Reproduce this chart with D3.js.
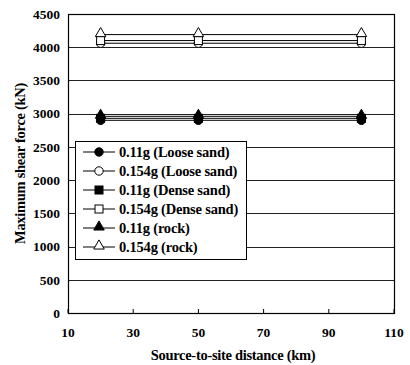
<!DOCTYPE html>
<html>
<head>
<meta charset="utf-8">
<script src="https://cdn.jsdelivr.net/npm/d3@7"></script>
<style>
  body { margin: 0; background: #fff; }
  text { font-family: "Liberation Serif", "Times New Roman", serif; font-weight: bold; }
</style>
</head>
<body>
<div id="chart"></div>
<script>
// data
const distances = [20, 50, 100];
const seriesNames = ["0.11g (Loose sand)", "0.154g (Loose sand)", "0.11g (Dense sand)",
                     "0.154g (Dense sand)", "0.11g (rock)", "0.154g (rock)"];
const looseSand011 = [2900, 2900, 2900];
const looseSand0154 = [4060, 4060, 4060];
const denseSand011 = [2930, 2930, 2930];
const denseSand0154 = [4100, 4100, 4100];
const rock011 = [2960, 2960, 2960];
const rock0154 = [4190, 4190, 4190];
const xTicks = [10, 30, 50, 70, 90, 110];
const yTicks = d3.range(0, 4501, 500);

const seriesValues = [looseSand011, looseSand0154, denseSand011, denseSand0154, rock011, rock0154];
const markers = ["circle", "circle", "square", "square", "triangle", "triangle"];
const filled = [true, false, true, false, true, false];

const width = 410, height = 365;
const margin = { left: 68, right: 16, top: 14, bottom: 52 };

const svg = d3.select("#chart").append("svg")
    .attr("width", width)
    .attr("height", height);

const x = d3.scaleLinear().domain([10, 110]).range([margin.left, width - margin.right]);
const y = d3.scaleLinear().domain([0, 4500]).range([height - margin.bottom, margin.top]);

// gridlines
svg.append("g")
    .selectAll("line")
    .data(yTicks)
    .enter()
    .append("line")
    .attr("x1", x(10)).attr("x2", x(110))
    .attr("y1", d => Math.round(y(d)) + 0.5).attr("y2", d => Math.round(y(d)) + 0.5)
    .style("stroke", "#222")
    .style("stroke-width", 1);

// frame
svg.append("rect")
    .attr("x", x(10) + 0.5).attr("y", y(4500) + 0.5)
    .attr("width", x(110) - x(10)).attr("height", y(0) - y(4500))
    .style("fill", "none").style("stroke", "#000").style("stroke-width", 1.2);

// x tick marks (inside)
svg.append("g")
    .selectAll("line")
    .data(xTicks)
    .enter()
    .append("line")
    .attr("x1", d => x(d)).attr("x2", d => x(d))
    .attr("y1", y(0)).attr("y2", y(0) - 4)
    .style("stroke", "#000");

// tick labels
svg.append("g")
    .selectAll("text")
    .data(yTicks)
    .enter()
    .append("text")
    .attr("x", x(10) - 8)
    .attr("y", d => y(d))
    .attr("dy", "0.35em")
    .attr("text-anchor", "end")
    .style("font-size", "13.5px")
    .text(d => d);

svg.append("g")
    .selectAll("text")
    .data(xTicks)
    .enter()
    .append("text")
    .attr("x", d => x(d))
    .attr("y", y(0) + 24)
    .attr("text-anchor", "middle")
    .style("font-size", "13.5px")
    .text(d => d);

// axis titles
svg.append("text")
    .attr("x", 233)
    .attr("y", 360)
    .attr("text-anchor", "middle")
    .style("font-size", "14.5px")
    .style("letter-spacing", "-0.3px")
    .text("Source-to-site distance (km)");

svg.append("text")
    .attr("transform", `translate(25,${(y(0) + y(4500)) / 2}) rotate(-90)`)
    .attr("text-anchor", "middle")
    .style("font-size", "14.5px")
    .style("letter-spacing", "-0.3px")
    .text("Maximum shear force (kN)");

const triangle = d3.symbol().type(d3.symbolTriangle).size(48);

function drawMarker(g, kind, isFilled, cx, cy) {
    let m;
    if (kind === "circle") {
        m = g.append("circle").attr("cx", cx).attr("cy", cy).attr("r", 4.2);
    } else if (kind === "square") {
        m = g.append("rect").attr("x", cx - 4).attr("y", cy - 4).attr("width", 8).attr("height", 8);
    } else {
        m = g.append("path").attr("d", triangle).attr("transform", `translate(${cx},${cy - 1})`);
    }
    m.style("fill", isFilled ? "#000" : "#fff").style("stroke", "#000").style("stroke-width", 1);
}

// series
const line = d3.line().x(d => x(d[0])).y(d => y(d[1]));
seriesValues.forEach((vals, i) => {
    const pts = distances.map((d, j) => [d, vals[j]]);
    svg.append("path")
        .attr("d", line(pts))
        .style("fill", "none")
        .style("stroke", "#000")
        .style("stroke-width", 1);
});
seriesValues.forEach((vals, i) => {
    const g = svg.append("g");
    distances.forEach((d, j) => drawMarker(g, markers[i], filled[i], x(d), y(vals[j])));
});

// legend
const legend = svg.append("g");
legend.append("rect")
    .attr("x", 75.5).attr("y", 141.5)
    .attr("width", 171).attr("height", 118)
    .style("fill", "#fff").style("stroke", "#000");

seriesNames.forEach((name, i) => {
    const ly = 152 + i * 19;
    legend.append("line")
        .attr("x1", 83).attr("x2", 115)
        .attr("y1", ly).attr("y2", ly)
        .style("stroke", "#000");
    drawMarker(legend, markers[i], filled[i], 99, ly);
    legend.append("text")
        .attr("x", 119).attr("y", ly)
        .attr("dy", "0.35em")
        .style("font-size", "14.5px")
        .style("letter-spacing", "-0.2px")
        .text(name);
});
</script>
</body>
</html>
